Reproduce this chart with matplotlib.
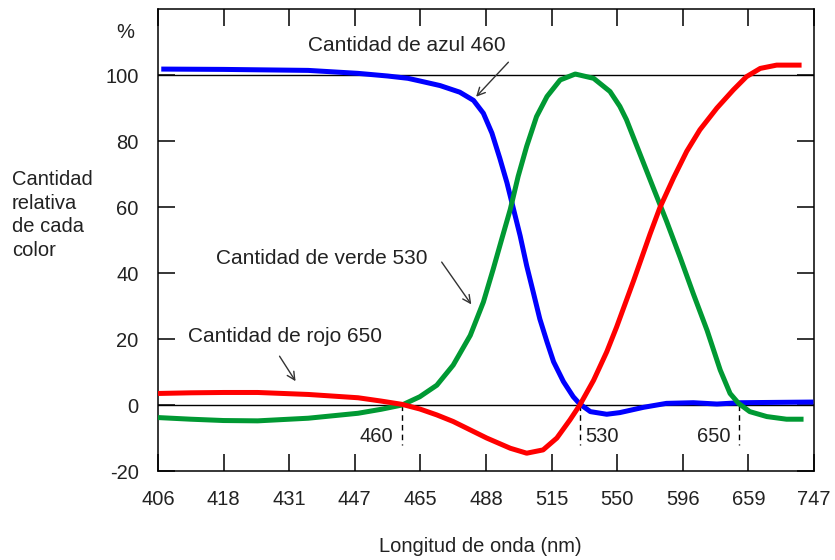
import matplotlib.pyplot as plt

plt.rcParams['font.family'] = ['Liberation Sans', 'DejaVu Sans']
plt.rcParams['axes.unicode_minus'] = False

# wavelength tick labels, placed at equal steps (non linear scale)
tick_labels = ['406', '418', '431', '447', '465', '488', '515', '550', '596', '659', '747']

# curves, x in tick-step units
blue_x = [0.05, 1.0, 2.29, 3.05, 3.5, 3.81, 3.99, 4.30, 4.60, 4.81, 4.96, 5.09, 5.21,
          5.32, 5.42, 5.52, 5.62, 5.72, 5.82, 5.93, 6.03, 6.18, 6.33, 6.43, 6.59, 6.84,
          7.04, 7.40, 7.75, 8.16, 8.52, 8.87, 9.99]
blue_y = [101.8, 101.7, 101.4, 100.5, 99.7, 99.0, 98.2, 96.8, 94.8, 92.3, 88.4, 82.4, 74.8,
          67.3, 59.3, 51.3, 42.2, 34.2, 26.1, 19.1, 13.1, 7.1, 2.5, 0.3, -2.0, -2.8,
          -2.3, -0.7, 0.5, 0.7, 0.3, 0.7, 0.9]

green_x = [0.0, 0.5, 1.0, 1.52, 2.29, 3.05, 3.4, 3.72, 3.99, 4.25, 4.50, 4.76, 4.96,
           5.11, 5.24, 5.37, 5.49, 5.62, 5.77, 5.93, 6.13, 6.36, 6.64, 6.89, 7.04, 7.14,
           7.35, 7.55, 7.75, 7.96, 8.16, 8.37, 8.57, 8.72, 8.85, 9.02, 9.28, 9.58, 9.84]
green_y = [-3.8, -4.3, -4.7, -4.8, -4.0, -2.5, -1.3, 0, 2.5, 6.0, 12.1, 21.1, 31.2,
           41.2, 50.3, 59.3, 69.3, 78.4, 87.4, 93.5, 98.5, 100.3, 99.0, 95.0, 90.5, 86.5,
           75.9, 65.8, 55.8, 44.7, 33.7, 22.6, 10.6, 3.5, 0.5, -2.0, -3.5, -4.3, -4.3]

red_x = [0.0, 0.5, 1.0, 1.52, 2.29, 3.05, 3.4, 3.72, 3.99, 4.25, 4.50, 5.01, 5.37,
         5.62, 5.87, 6.08, 6.28, 6.43, 6.64, 6.84, 6.99, 7.25, 7.50, 7.65, 7.86, 8.06,
         8.26, 8.52, 8.77, 8.97, 9.18, 9.43, 9.81]
red_y = [3.5, 3.7, 3.8, 3.8, 3.2, 2.2, 1.2, 0.2, -1.2, -3.0, -5.0, -10.0, -13.1,
         -14.6, -13.6, -10.0, -4.5, 0, 7.5, 16.1, 23.6, 37.7, 51.8, 59.8, 68.9, 76.9,
         83.4, 90.0, 95.5, 99.5, 102.0, 103.0, 103.0]

# zero crossings marked with dashed lines
cross_x = [3.72, 6.43, 8.86]
cross_labels = ['460', '530', '650']

fig = plt.figure(figsize=(8.35, 5.6), dpi=100)
ax = fig.add_axes([0.1892, 0.1589, 0.7857, 0.825])

ax.axhline(0, color='black', lw=1.0, zorder=1)
ax.axhline(100, color='black', lw=1.0, zorder=1)

style = dict(lw=3.6, solid_capstyle='butt', solid_joinstyle='round', zorder=3)
ax.plot(blue_x, blue_y, color='#0000ff', **style)
ax.plot(green_x, green_y, color='#009933', **style)
ax.plot(red_x, red_y, color='#ff0000', **style)

for i, (cx, lab) in enumerate(zip(cross_x, cross_labels)):
    ax.plot([cx, cx], [0, -12], color='black', lw=1.0, ls=(0, (4, 3)), zorder=2)
    if i == 1:
        ax.text(cx + 0.08, -9.5, lab, ha='left', va='center', fontsize=14.5, color='#222222')
    else:
        ax.text(cx - 0.13, -9.5, lab, ha='right', va='center', fontsize=14.5, color='#222222')

ax.set_xlim(0, 10)
ax.set_ylim(-20, 120)
ax.set_xticks(range(len(tick_labels)))
ax.set_xticklabels(tick_labels)
ax.set_yticks([-20, 0, 20, 40, 60, 80, 100])
ax.tick_params(direction='in', length=12, width=1.1, labelsize=14.5, colors='black',
               labelcolor='#222222', top=True, right=True)
ax.tick_params(axis='x', pad=14)
ax.tick_params(axis='y', pad=14)
for s in ax.spines.values():
    s.set_linewidth(1.1)

# annotations with their arrows
arrow = dict(arrowstyle='->', color='#333333', lw=1.0, mutation_scale=14)
ax.text(3.80, 108.8, 'Cantidad de azul 460', ha='center', va='center', fontsize=15, color='#222222')
ax.annotate('', xy=(4.82, 92.8), xytext=(5.37, 104.5), arrowprops=arrow)
ax.text(2.49, 44.5, 'Cantidad de verde 530', ha='center', va='center', fontsize=15, color='#222222')
ax.annotate('', xy=(4.80, 29.8), xytext=(4.30, 44), arrowprops=arrow)
ax.text(1.94, 20.7, 'Cantidad de rojo 650', ha='center', va='center', fontsize=15, color='#222222')
ax.annotate('', xy=(2.12, 6.5), xytext=(1.83, 15.5), arrowprops=arrow)

fig.text(125 / 835, 1 - 33 / 560, '%', ha='center', va='center', fontsize=14.5, color='#222222')
fig.text(12 / 835, 1 - 215 / 560, 'Cantidad\nrelativa\nde cada\ncolor', ha='left', va='center',
         fontsize=14.5, color='#222222', linespacing=1.32)
fig.text(480 / 835, 1 - 547 / 560, 'Longitud de onda (nm)', ha='center', va='center',
         fontsize=14.5, color='#222222')

fig.savefig('out.png', dpi=100)
